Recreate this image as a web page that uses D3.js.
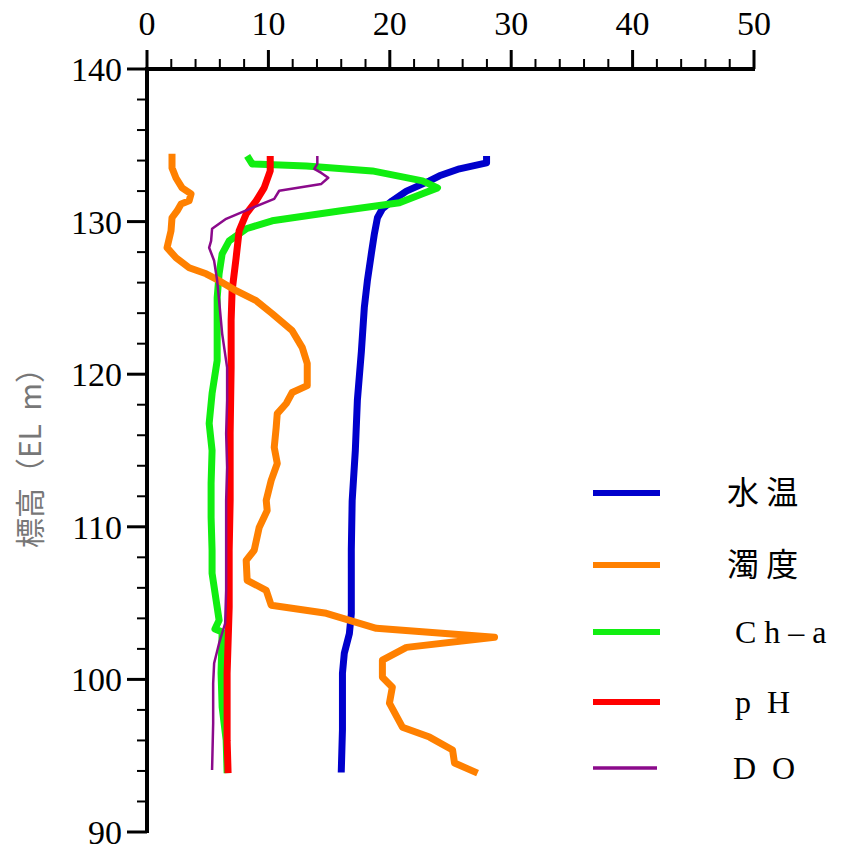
<!DOCTYPE html>
<html>
<head>
<meta charset="utf-8">
<script src="https://cdn.jsdelivr.net/npm/d3@7"></script>
</head>
<body style="margin:0">
<script>
// series: [value, elevation (EL m)]
const waterTemp = [
  [27.97,134.3],[27.97,133.85],[25.74,133.46],[24.09,133.0],[23.27,132.67],[21.37,132.0],
  [20.2,131.36],[19.39,130.84],[18.98,130.25],[18.73,129.2],[18.48,127.9],[18.15,126.1],
  [17.9,124.36],[17.66,121.5],[17.33,118.3],[17.16,115.0],[16.9,111.7],[16.83,108.5],
  [16.83,107.3],[16.83,104.3],[16.67,103.0],[16.25,101.7],[16.1,100.4],[16.1,96.7],[16.0,93.9]
];
const turbidity = [
  [2.06,134.44],[2.06,133.52],[2.39,132.86],[2.89,132.21],[3.63,131.82],[3.47,131.36],
  [2.81,131.16],[2.48,130.7],[2.06,130.25],[1.98,129.4],[1.65,128.29],[2.39,127.63],
  [3.47,126.98],[4.87,126.58],[5.94,126.13],[7.34,125.47],[8.99,124.82],[10.31,123.97],
  [11.96,122.85],[12.79,121.74],[13.2,120.7],[13.2,119.25],[11.96,118.8],[11.47,118.08],
  [10.73,117.42],[10.64,116.5],[10.48,115.2],[10.73,114.15],[10.23,113.04],[9.82,111.73],
  [9.9,111.07],[9.24,109.96],[8.83,108.46],[8.17,107.8],[8.25,106.49],[9.82,105.84],
  [10.23,104.86],[14.77,104.33],[18.89,103.35],[28.63,102.76],[21.37,102.1],[19.39,101.26],
  [19.39,100.14],[20.21,99.49],[19.97,98.44],[21.04,96.87],[23.27,96.22],[25.17,95.37],
  [25.33,94.52],[27.23,93.86]
];
const chlA = [
  [8.25,134.3],[8.66,133.78],[13.12,133.65],[18.56,133.32],[22.69,132.67],[23.93,132.21],
  [22.69,131.82],[20.79,131.23],[15.84,130.7],[10.31,130.05],[8.17,129.53],[6.77,128.74],
  [6.19,127.89],[5.94,126.58],[5.78,125.01],[5.78,123.51],[5.78,120.89],[5.36,118.73],
  [5.12,116.77],[5.36,115.0],[5.28,112.84],[5.28,110.62],[5.36,108.46],[5.36,106.95],
  [5.78,104.73],[5.94,103.87],[5.6,103.3],[6.19,103.1],[6.1,100.41],[6.19,98.18],
  [6.52,96.02],[6.6,93.86]
];
const pH = [
  [10.15,134.3],[10.15,133.32],[9.65,132.21],[8.99,131.36],[8.17,130.5],[7.59,129.4],
  [7.34,127.63],[7.01,125.47],[6.93,123.51],[6.93,120.43],[6.85,116.11],[6.85,111.73],
  [6.77,108.46],[6.77,104.73],[6.6,100.41],[6.6,96.02],[6.68,93.86]
];
const dissolvedO = [
  [14.03,134.3],[14.03,133.78],[13.78,133.46],[14.36,133.19],[14.93,132.87],[14.36,132.47],
  [10.89,132.02],[10.48,131.49],[8.66,130.9],[6.52,130.18],[5.36,129.53],[5.28,128.74],
  [5.12,128.29],[5.53,127.43],[5.78,126.13],[5.94,124.82],[6.19,122.66],[6.6,120.43],
  [6.6,118.27],[6.52,116.11],[6.6,113.89],[6.52,111.73],[6.52,108.46],[6.52,105.84],
  [6.44,103.68],[5.94,102.37],[5.53,101.06],[5.45,99.75],[5.45,97.13],[5.36,94.06]
];

const legendLabels = ["水 温", "濁 度", "C h – a", "p  H", "D  O"];
const xTicks = [0, 10, 20, 30, 40, 50];
const yTicks = [90, 100, 110, 120, 130, 140];

const width = 858, height = 851;
const margin = {top: 69, left: 147, right: 104, bottom: 19};

const svg = d3.select("body").append("svg")
  .attr("width", width)
  .attr("height", height)
  .attr("style", "display:block; font-family: 'Liberation Serif', 'Times New Roman';");

const x = d3.scaleLinear().domain([0, 50]).range([margin.left, width - margin.right]);
const y = d3.scaleLinear().domain([90, 140]).range([height - margin.bottom, margin.top]);

const cjkFont = "\"Noto Sans CJK JP\"";

// minor ticks every 2 units
const xMinor = d3.range(0, 51, 2).filter(d => d % 10 !== 0);
const yMinor = d3.range(90, 141, 2).filter(d => d % 10 !== 0);

const gx = svg.append("g").attr("transform", `translate(0,${y(140)})`);
gx.selectAll(".minor").data(xMinor).join("line")
  .attr("x1", d => x(d)).attr("x2", d => x(d))
  .attr("y1", 0).attr("y2", -10)
  .attr("stroke", "#000").attr("stroke-width", 2);
gx.selectAll(".major").data(xTicks).join("line")
  .attr("x1", d => x(d)).attr("x2", d => x(d))
  .attr("y1", 0).attr("y2", -19)
  .attr("stroke", "#000").attr("stroke-width", 3);
gx.selectAll("text").data(xTicks).join("text")
  .attr("x", d => x(d)).attr("y", -34)
  .attr("text-anchor", "middle")
  .attr("font-size", 34)
  .text(d => d);

const gy = svg.append("g").attr("transform", `translate(${x(0)},0)`);
gy.selectAll(".minor").data(yMinor).join("line")
  .attr("y1", d => y(d)).attr("y2", d => y(d))
  .attr("x1", 0).attr("x2", -10)
  .attr("stroke", "#000").attr("stroke-width", 2);
gy.selectAll(".major").data(yTicks).join("line")
  .attr("y1", d => y(d)).attr("y2", d => y(d))
  .attr("x1", 0).attr("x2", -20)
  .attr("stroke", "#000").attr("stroke-width", 3);
gy.selectAll("text").data(yTicks).join("text")
  .attr("x", -25).attr("y", d => y(d) + 12)
  .attr("text-anchor", "end")
  .attr("font-size", 34)
  .text(d => d);

// axis lines
svg.append("line")
  .attr("x1", x(0) - 2).attr("x2", x(50) + 1)
  .attr("y1", y(140)).attr("y2", y(140))
  .attr("stroke", "#000").attr("stroke-width", 4);
svg.append("line")
  .attr("x1", x(0)).attr("x2", x(0))
  .attr("y1", y(140) - 2).attr("y2", y(90) + 1)
  .attr("stroke", "#000").attr("stroke-width", 4);

svg.append("text")
  .attr("transform", `translate(41,${(y(90) + y(140)) / 2}) rotate(-90)`)
  .attr("text-anchor", "middle")
  .attr("fill", "#777")
  .style("font-family", cjkFont).style("font-size", "30px")
  .style("white-space", "pre")
  .text("標高（EL  m）");

const line = d3.line().x(d => x(d[0])).y(d => y(d[1]));

const series = [
  {data: waterTemp, color: "#0000cc", w: 7},
  {data: turbidity, color: "#ff8000", w: 7},
  {data: chlA, color: "#11ee11", w: 7},
  {data: pH, color: "#ff0000", w: 7},
  {data: dissolvedO, color: "#8b0a8b", w: 2.5}
];
const drawOrder = [0, 2, 3, 1, 4];

svg.append("g").selectAll("path").data(drawOrder.map(i => series[i])).join("path")
  .attr("d", d => line(d.data))
  .attr("fill", "none")
  .attr("stroke", d => d.color)
  .attr("stroke-width", d => d.w)
  .attr("stroke-linejoin", "round");

// legend
const legY = [493, 565, 632, 702, 768];
const legX = [0, 0, 8, 8, 6];
const leg = svg.append("g");
series.forEach((s, i) => {
  leg.append("line")
    .attr("x1", 593).attr("x2", s.w < 5 ? 657 : 660)
    .attr("y1", legY[i]).attr("y2", legY[i])
    .attr("stroke", s.color).attr("stroke-width", s.w < 5 ? 3.5 : 6);
  const t = leg.append("text")
    .attr("x", 727 + legX[i]).attr("y", legY[i] + 11)
    .attr("font-size", 32)
    .style("white-space", "pre")
    .text(legendLabels[i]);
  if (i < 2) t.style("font-family", cjkFont);
});
</script>
</body>
</html>
